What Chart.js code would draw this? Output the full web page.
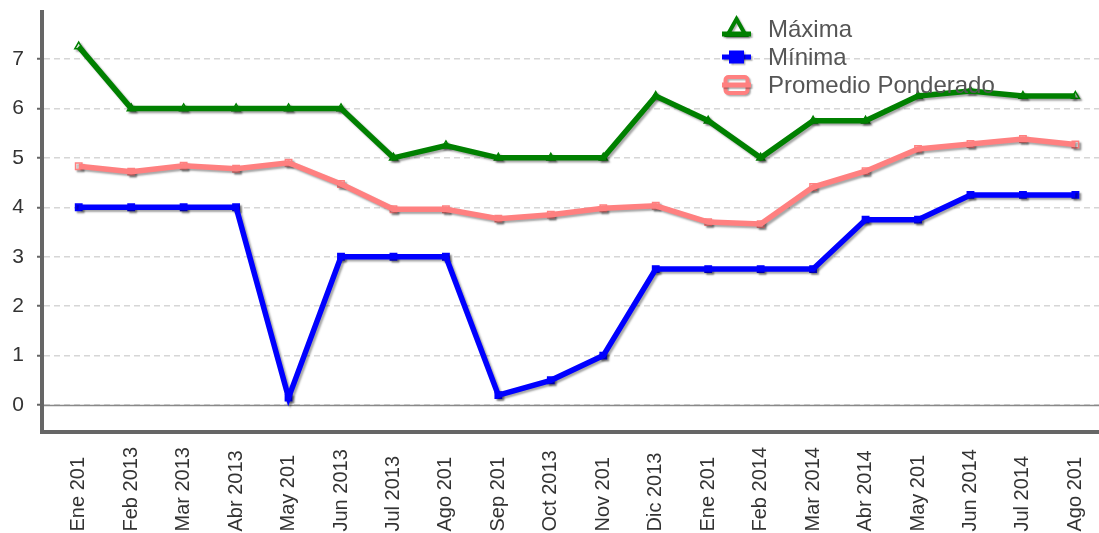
<!DOCTYPE html>
<html>
<head>
<meta charset="utf-8">
<script src="https://cdn.jsdelivr.net/npm/chart.js@4/dist/chart.umd.min.js"></script>
<style>
  html, body { margin: 0; padding: 0; background: #fff; }
  #wrap { width: 1099px; height: 533px; position: relative; }
</style>
</head>
<body>
<div id="wrap"><canvas id="c" width="1099" height="533"></canvas></div>
<script>
// Monthly labels along the horizontal axis
const categories = ['Ene 201', 'Feb 2013', 'Mar 2013', 'Abr 2013', 'May 201', 'Jun 2013', 'Jul 2013',
  'Ago 201', 'Sep 201', 'Oct 2013', 'Nov 201', 'Dic 2013', 'Ene 201', 'Feb 2014', 'Mar 2014',
  'Abr 2014', 'May 201', 'Jun 2014', 'Jul 2014', 'Ago 201'];

// Series values
const maxima   = [7.25, 6, 6, 6, 6, 6, 5, 5.25, 5, 5, 5, 6.25, 5.75, 5, 5.75, 5.75, 6.25, 6.35, 6.25, 6.25];
const minima   = [4, 4, 4, 4, 0.15, 3, 3, 3, 0.2, 0.5, 1, 2.75, 2.75, 2.75, 2.75, 3.75, 3.75, 4.25, 4.25, 4.25];
const promedio = [4.83, 4.72, 4.84, 4.78, 4.9, 4.47, 3.96, 3.96, 3.77, 3.85, 3.98, 4.03, 3.7, 3.66, 4.41, 4.73, 5.18, 5.28, 5.38, 5.27];

// Value-axis tick labels
const yTicks = [0, 1, 2, 3, 4, 5, 6, 7];

const seriesNames = ['Máxima', 'Mínima', 'Promedio Ponderado'];

const GREEN = '#008000';
const BLUE = '#0000ff';
const PINK = '#ff8080';
const FONT = '"Liberation Sans", Arial, sans-serif';

const toPoints = arr => arr.map((v, i) => ({ x: i, y: v }));

function lineSet(label, values, color) {
  return {
    label, data: toPoints(values), borderColor: color, backgroundColor: color,
    borderWidth: 5.5, pointRadius: 0, pointHoverRadius: 0, tension: 0, order: 0
  };
}
function markerSet(label, values, color, style, fill) {
  return {
    label: label + ' marcador', data: toPoints(values), showLine: false,
    pointStyle: style, pointRadius: 4.5, pointBorderWidth: 1.5,
    pointBorderColor: color, pointBackgroundColor: fill, order: 1
  };
}

// Soft drop shadow under the series
const shadowPlugin = {
  id: 'shadow',
  beforeDatasetsDraw(chart) {
    const ctx = chart.ctx;
    ctx.save();
    ctx.shadowColor = 'rgba(0,0,0,0.35)';
    ctx.shadowOffsetX = 2;
    ctx.shadowOffsetY = 2;
    ctx.shadowBlur = 2;
  },
  afterDatasetsDraw(chart) { chart.ctx.restore(); }
};

// Solid baseline at zero
const zeroLinePlugin = {
  id: 'zeroLine',
  beforeDatasetsDraw(chart) {
    const { ctx, chartArea, scales } = chart;
    const y = Math.round(scales.y.getPixelForValue(0)) + 0.5;
    ctx.save();
    ctx.strokeStyle = '#8a8a8a';
    ctx.lineWidth = 1.5;
    ctx.beginPath();
    ctx.moveTo(chartArea.left + 2, y);
    ctx.lineTo(chartArea.right, y);
    ctx.stroke();
    ctx.restore();
  }
};

// Vertical month labels, read upward from the bottom edge
const monthLabelPlugin = {
  id: 'monthLabels',
  afterDraw(chart) {
    const { ctx, scales } = chart;
    const base = chart.height - 1.5;
    ctx.save();
    ctx.fillStyle = '#333';
    ctx.font = '20px ' + FONT;
    ctx.textAlign = 'left';
    ctx.textBaseline = 'middle';
    categories.forEach((lab, i) => {
      const x = scales.x.getPixelForValue(i);
      ctx.save();
      ctx.translate(x, base);
      ctx.rotate(-Math.PI / 2);
      ctx.fillText(lab, 0, 0);
      ctx.restore();
    });
    ctx.restore();
  }
};

// Legend drawn inside the plot, top right
const legendPlugin = {
  id: 'insideLegend',
  afterDraw(chart) {
    const ctx = chart.ctx;
    const x0 = 722, x1 = 751, cx = 736.5;
    const rows = [29, 57, 85];
    const colors = [GREEN, BLUE, PINK];
    ctx.save();
    rows.forEach((y, i) => {
      ctx.save();
      ctx.shadowColor = 'rgba(0,0,0,0.3)';
      ctx.shadowOffsetX = 1.5;
      ctx.shadowOffsetY = 1.5;
      ctx.shadowBlur = 1.5;
      ctx.strokeStyle = colors[i];
      ctx.fillStyle = colors[i];
      if (i === 0) {
        ctx.lineWidth = 4;
        ctx.beginPath();
        ctx.moveTo(cx, y - 10);
        ctx.lineTo(cx + 9, y + 6);
        ctx.lineTo(cx - 9, y + 6);
        ctx.closePath();
        ctx.fillStyle = '#fff';
        ctx.fill();
        ctx.stroke();
        ctx.lineWidth = 5;
        ctx.beginPath();
        ctx.moveTo(x0, y + 5);
        ctx.lineTo(x1, y + 5);
        ctx.stroke();
      } else if (i === 1) {
        ctx.lineWidth = 5;
        ctx.beginPath();
        ctx.moveTo(x0, y);
        ctx.lineTo(x1, y);
        ctx.stroke();
        ctx.fillRect(cx - 7.5, y - 6.5, 15, 13);
      } else {
        ctx.lineWidth = 4;
        ctx.fillStyle = '#fff';
        ctx.beginPath();
        ctx.roundRect(cx - 11, y - 8, 22, 16, 3);
        ctx.fill();
        ctx.stroke();
        ctx.lineWidth = 5;
        ctx.beginPath();
        ctx.moveTo(x0, y);
        ctx.lineTo(x1, y);
        ctx.stroke();
      }
      ctx.restore();
      ctx.fillStyle = '#555';
      ctx.font = '24px ' + FONT;
      ctx.textBaseline = 'middle';
      ctx.textAlign = 'left';
      ctx.fillText(seriesNames[i], 768, y + 1);
    });
    ctx.restore();
  }
};

new Chart(document.getElementById('c'), {
  type: 'line',
  data: {
    datasets: [
      lineSet(seriesNames[0], maxima, GREEN),
      lineSet(seriesNames[1], minima, BLUE),
      lineSet(seriesNames[2], promedio, PINK),
      markerSet(seriesNames[0], maxima, GREEN, 'triangle', '#fff'),
      markerSet(seriesNames[1], minima, BLUE, 'rect', BLUE),
      markerSet(seriesNames[2], promedio, PINK, 'rect', '#fff')
    ]
  },
  options: {
    responsive: false,
    animation: false,
    events: [],
    layout: { autoPadding: false, padding: { top: 12, right: 0, left: 0, bottom: 0 } },
    plugins: { legend: { display: false }, tooltip: { enabled: false } },
    scales: {
      x: {
        type: 'linear',
        min: -0.7,
        max: 19.45,
        afterBuildTicks: s => { s.ticks = categories.map((_, i) => ({ value: i })); },
        afterFit: s => { s.height = 101; s.paddingLeft = 0; s.paddingRight = 0; },
        ticks: { display: false, autoSkip: false },
        grid: { drawOnChartArea: false, drawTicks: false },
        border: { display: true, color: '#666', width: 4 }
      },
      y: {
        min: -0.546,
        max: 7.95,
        afterBuildTicks: s => { s.ticks = yTicks.map(v => ({ value: v })); },
        afterFit: s => { s.width = 42; s.paddingTop = 0; s.paddingBottom = 0; },
        ticks: {
          padding: 13,
          color: '#333',
          font: { family: FONT, size: 21 },
          callback: v => String(v)
        },
        grid: {
          color: '#d6d6d6',
          lineWidth: 1.5,
          tickLength: 5,
          tickColor: '#666',
          tickWidth: 2,
          tickBorderDash: []
        },
        border: { display: true, color: '#666', width: 4, dash: [6, 4] }
      }
    }
  },
  plugins: [zeroLinePlugin, shadowPlugin, legendPlugin, monthLabelPlugin]
});
</script>
</body>
</html>
